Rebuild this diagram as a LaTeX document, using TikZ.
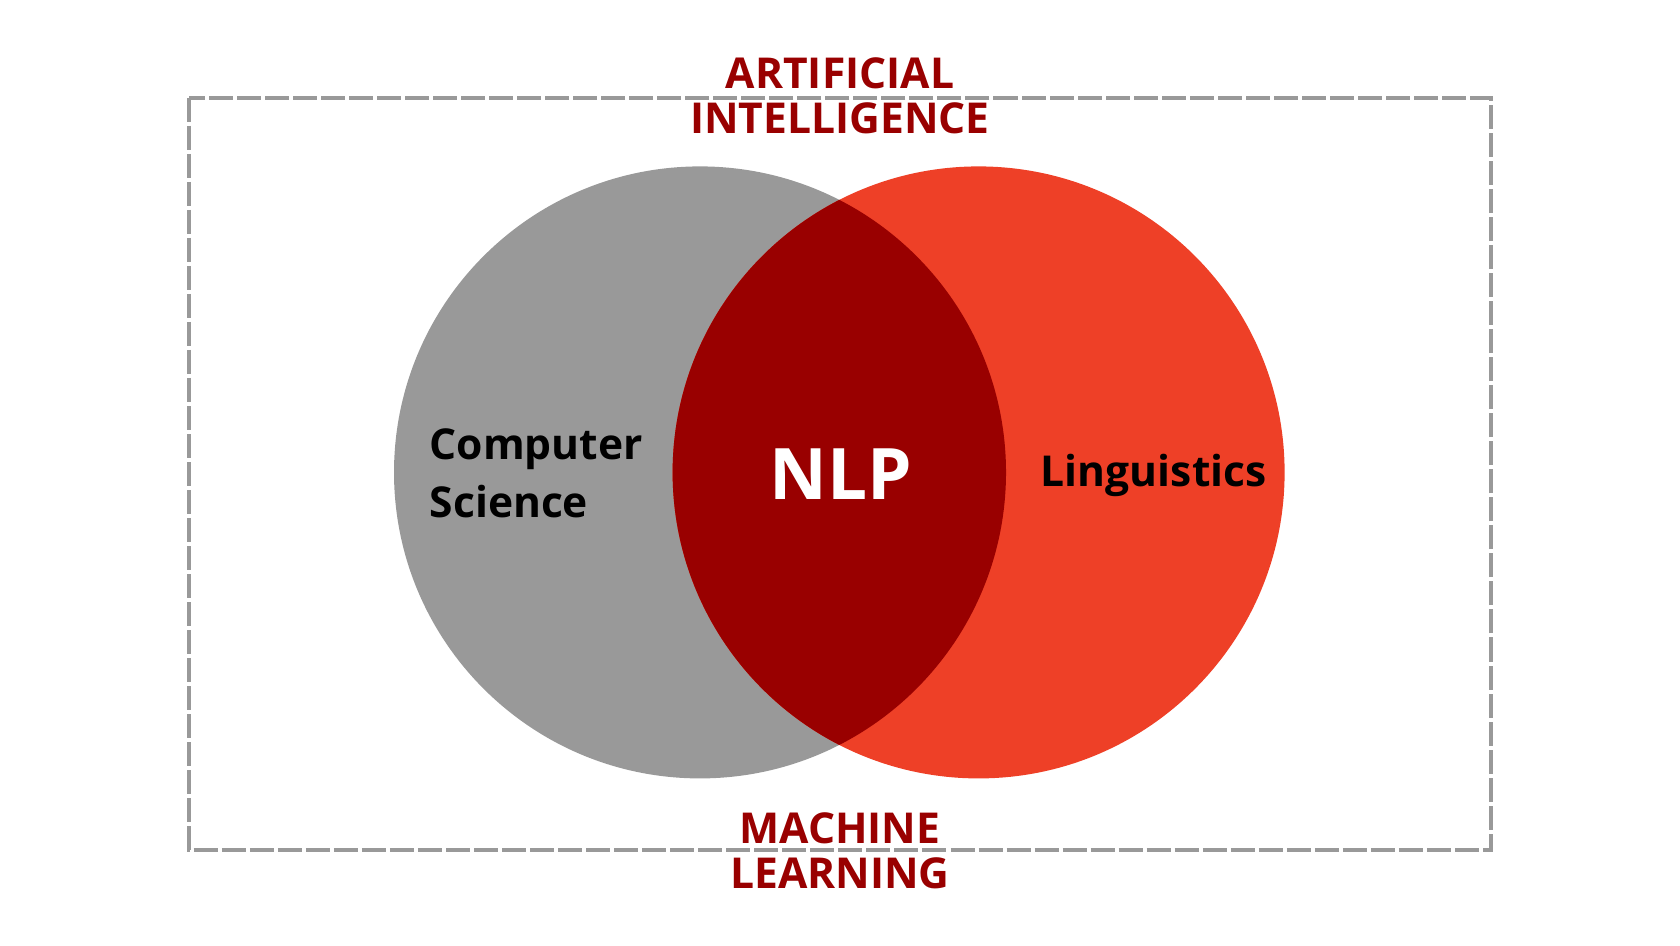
\documentclass[tikz,border=0pt]{standalone}
\usepackage{fontspec}
\setmainfont{Open Sans}
\usetikzlibrary{positioning}
\definecolor{venngrey}{HTML}{999999}
\definecolor{vennred}{HTML}{EE4027}
\definecolor{nlpred}{HTML}{990000}

\begin{document}
\begin{tikzpicture}[x=0.01cm,y=-0.01cm]
        \tikzstyle{every node}+=[inner sep=0pt]
        \tikzstyle{fieldlabel}=[text=nlpred, align=center, font=\bfseries\fontsize{12.1}{12.8}\selectfont]
        \tikzstyle{setlabel}=[text=black, font=\bfseries\fontsize{12.1}{16.4}\selectfont]
        \useasboundingbox (0,0) rectangle (1680,945);
        \coordinate (cs) at (700,472.4);
        \coordinate (li) at (978.6,472.4);
        \fill [venngrey] (cs) circle (306);
        \fill [vennred] (li) circle (306);
        \begin{scope}
          \clip (cs) circle (306);
          \fill [nlpred] (li) circle (306);
        \end{scope}
        \draw [venngrey, line width=1.14pt, dash pattern=on 6.83pt off 1.14pt] (189.3,97.7) rectangle (1490.7,850);
        \node (ai) [fieldlabel] at (840,95.8) {ARTIFICIAL\\INTELLIGENCE};
        \node (ml) [fieldlabel] at (840,850.8) {MACHINE\\LEARNING};
        \node (comp) [setlabel, align=left, anchor=west] at (429,473) {Computer\\Science};
        \node (nlp) [text=white, font=\bfseries\fontsize{20.2}{24}\selectfont, anchor=base] at (840.5,499) {NLP};
        \node (ling) [setlabel, anchor=base] at (1153.7,486.7) {Linguistics};
\end{tikzpicture}
\end{document}
